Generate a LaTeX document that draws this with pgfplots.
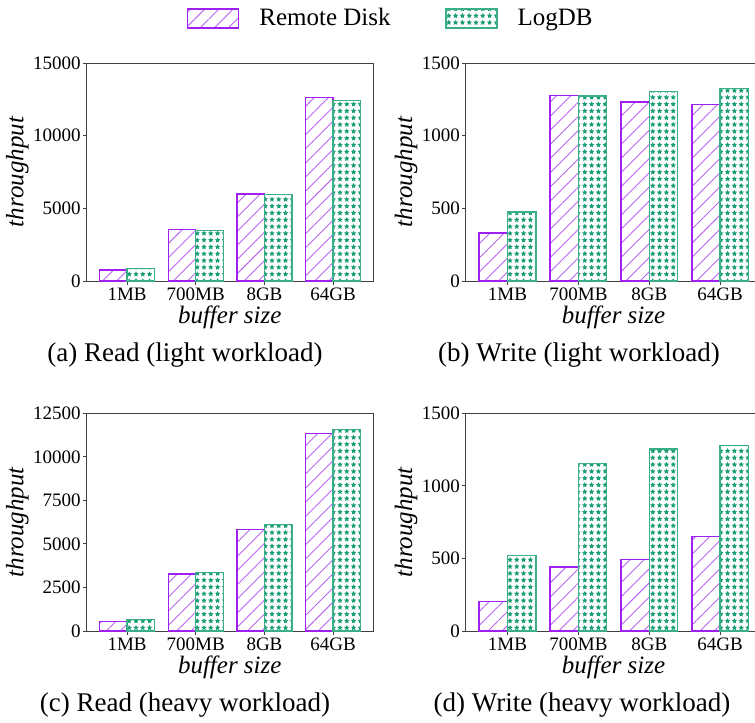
\documentclass[border=0pt]{standalone}
\usepackage{fontspec}
\setmainfont{Liberation Serif}
\usepackage{pgfplots}
\pgfplotsset{compat=1.18}
\usetikzlibrary{patterns.meta}

\definecolor{rdedge}{HTML}{A020F0}
\definecolor{rdhatch}{HTML}{B866F2}
\definecolor{ldedge}{HTML}{3AAE88}
\definecolor{ldstar}{HTML}{1A9E77}
\definecolor{spine}{HTML}{404040}

\pgfplotsset{
  panel/.style={
    scale only axis,
    ybar,
    bar width=0.4,
    xmin=-0.59, xmax=3.58, ymin=0,
    xtick={0,1,2,3},
    xticklabels={1MB,700MB,8GB,64GB},
    xtick pos=bottom, ytick pos=left,
    tick align=outside,
    major tick length=1.75bp,
    axis line style={spine, line width=0.5bp},
    every tick/.style={spine, line width=0.5bp},
    scaled y ticks=false,
    /pgf/number format/.cd, 1000 sep={}, assume math mode=true, /pgfplots/.cd,
    ticklabel style={font=\fontsize{9.5bp}{11bp}\selectfont},
    yticklabel style={inner sep=1bp},
    xticklabel style={inner sep=0pt, yshift=-1.3bp},
    xlabel={buffer size},
    ylabel={throughput},
    label style={font=\itshape\fontsize{12.5bp}{14bp}\selectfont},
    xlabel style={at={(axis description cs:0.5,0)}, yshift=-21.2bp, anchor=base, inner sep=0pt},
  },
  remote/.style={draw=rdedge, line width=0.7bp, bar shift=-0.2,
    pattern={Lines[angle=45,distance=5bp,line width=0.45bp]}, pattern color=rdhatch},
  logdb/.style={draw=ldedge, line width=0.7bp, bar shift=0.2,
    pattern={Stars[distance=3.4bp,radius=1.4bp,points=5]}, pattern color=ldstar},
}

\begin{document}
\begin{tikzpicture}

% (a) read, light workload
\begin{axis}[panel, at={(43.25bp,-140.5bp)}, width=143.25bp, height=109bp,
  ymax=15000, ytick={0,5000,10000,15000},
  ylabel style={at={(axis description cs:-0.241,0.5)}, anchor=center},
  legend columns=2,
  legend style={draw=none, fill=none, inner sep=0pt, outer sep=0pt,
    at={(axis description cs:0.351,1.205)}, anchor=west,
    font=\fontsize{12.5bp}{14bp}\selectfont,
    /tikz/every odd column/.append style={column sep=8bp},
    /tikz/every even column/.append style={column sep=25.3bp}},
  legend image code/.code={\draw[#1] (0bp,-4.75bp) rectangle (25.5bp,4.75bp);},
]
\addplot[remote] coordinates {(0,760) (1,3560) (2,5990) (3,12640)};
\addlegendentry{Remote Disk}
\addplot[logdb] coordinates {(0,850) (1,3490) (2,5940) (3,12410)};
\addlegendentry{LogDB}
\end{axis}

% (b) write, light workload
\begin{axis}[panel, at={(232.85bp,-140.5bp)}, width=147.8bp, height=109bp,
  ymax=1500, ytick={0,500,1000,1500},
  ylabel style={at={(axis description cs:-0.202,0.5)}, anchor=center},
]
\addplot[remote] coordinates {(0,330) (1,1277) (2,1231) (3,1213)};
\addplot[logdb] coordinates {(0,475) (1,1272) (2,1304) (3,1325)};
\end{axis}

% (c) read, heavy workload
\begin{axis}[panel, at={(43.25bp,-315.5bp)}, width=143.25bp, height=108.85bp,
  ymax=12500, ytick={0,2500,5000,7500,10000,12500},
  ylabel style={at={(axis description cs:-0.241,0.5)}, anchor=center},
]
\addplot[remote] coordinates {(0,540) (1,3270) (2,5840) (3,11330)};
\addplot[logdb] coordinates {(0,670) (1,3350) (2,6125) (3,11560)};
\end{axis}

% (d) write, heavy workload
\begin{axis}[panel, at={(232.85bp,-315.5bp)}, width=147.8bp, height=108.85bp,
  ymax=1500, ytick={0,500,1000,1500},
  ylabel style={at={(axis description cs:-0.202,0.5)}, anchor=center},
]
\addplot[remote] coordinates {(0,204) (1,441) (2,491) (3,652)};
\addplot[logdb] coordinates {(0,519) (1,1155) (2,1254) (3,1277)};
\end{axis}

% sub-captions
\begin{scope}[every node/.style={font=\fontsize{13.5bp}{16bp}\selectfont, anchor=base, inner sep=0pt}]
\node at (92.5bp,-180.5bp) {(a) Read (light workload)};
\node at (289.5bp,-180.5bp) {(b) Write (light workload)};
\node at (92.5bp,-355.5bp) {(c) Read (heavy workload)};
\node at (291bp,-355.5bp) {(d) Write (heavy workload)};
\end{scope}

\pgfresetboundingbox
\useasboundingbox (0,0) rectangle (377.5bp,-361.5bp);
\end{tikzpicture}
\end{document}
